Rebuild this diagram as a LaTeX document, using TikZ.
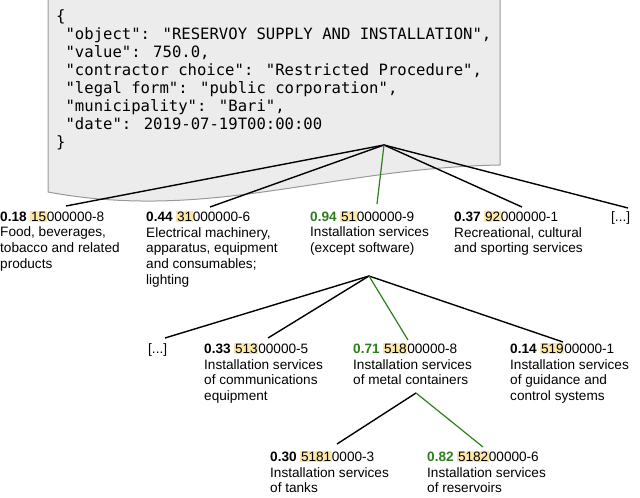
\documentclass[tikz,border=0pt]{standalone}
\usepackage{fontspec}
\setmainfont{Liberation Sans}
\newfontfamily\jmono{DejaVu Sans Mono}
\definecolor{hlc}{HTML}{FCE6A8}
\definecolor{grn}{HTML}{2E7D1E}
\definecolor{boxfill}{HTML}{ECECEC}
\newcommand{\hlx}[1]{{\setlength\fboxsep{0.6pt}\colorbox{hlc}{#1}}}
\begin{document}
\begin{tikzpicture}[x=1pt,y=-1pt,
  lbl/.style={anchor=north west,inner sep=0pt,align=left,font=\fontsize{13.6}{15.8}\selectfont},
  edge/.style={line width=1.4pt,black},
  gedge/.style={line width=1.2pt,grn}]
\useasboundingbox (0,0) rectangle (640,498);
\draw[fill=boxfill,draw=gray!80,line width=1pt] (48,-1) -- (500,-1) -- (500,165) .. controls (330,168) and (210,222) .. (48,192) -- cycle;
\node[anchor=north west,inner sep=0pt,align=left,font=\jmono\fontsize{15.6}{18.1}\selectfont] (json) at (56,9) {%
\{\\
\ "object": "RESERVOY SUPPLY AND INSTALLATION",\\
\ "value": 750.0,\\
\ "contractor choice": "Restricted Procedure",\\
\ "legal form": "public corporation",\\
\ "municipality": "Bari",\\
\ "date": 2019-07-19T00:00:00\\
\}};
\coordinate (r0) at (384,145);
\node[lbl] (a) at (0,211) {\textbf{0.18} \hlx{15}000000-8\\Food, beverages,\\tobacco and related\\products};
\node[lbl] (b) at (146,211) {\textbf{0.44} \hlx{31}000000-6\\Electrical machinery,\\apparatus, equipment\\and consumables;\\lighting};
\node[lbl] (c) at (310,211) {\textbf{\color{grn}0.94} \hlx{51}000000-9\\Installation services\\(except software)};
\node[lbl] (d) at (454,211) {\textbf{0.37} \hlx{92}000000-1\\Recreational, cultural\\and sporting services};
\node[lbl] (e) at (611,211) {[...]};
\coordinate (a0) at (66,206); \coordinate (b0) at (210,207);
\coordinate (c0) at (377,204); \coordinate (d0) at (522,207); \coordinate (e0) at (628,208);
\draw[edge] (r0) -- (a0); \draw[edge] (r0) -- (b0);
\draw[edge] (r0) -- (d0); \draw[edge] (r0) -- (e0);
\draw[gedge] (r0) -- (c0);
\coordinate (r1) at (369,276);
\node[lbl] (f) at (148,343) {[...]};
\node[lbl] (g) at (204,343) {\textbf{0.33} \hlx{513}00000-5\\Installation services\\of communications\\equipment};
\node[lbl] (h) at (353,343) {\textbf{\color{grn}0.71} \hlx{518}00000-8\\Installation services\\of metal containers};
\node[lbl] (i) at (510,343) {\textbf{0.14} \hlx{519}00000-1\\Installation services\\of guidance and\\control systems};
\coordinate (f0) at (165,338); \coordinate (g0) at (268,338);
\coordinate (h0) at (408,340); \coordinate (i0) at (563,342);
\draw[edge] (r1) -- (f0); \draw[edge] (r1) -- (g0); \draw[edge] (r1) -- (i0);
\draw[gedge] (r1) -- (h0);
\coordinate (r2) at (416,393);
\node[lbl] (j) at (270,451) {\textbf{0.30} \hlx{5181}0000-3\\Installation services\\of tanks};
\node[lbl] (k) at (427,451) {\textbf{\color{grn}0.82} \hlx{5182}00000-6\\Installation services\\of reservoirs};
\coordinate (j0) at (337,444); \coordinate (k0) at (483,447);
\draw[edge] (r2) -- (j0);
\draw[gedge] (r2) -- (k0);
\end{tikzpicture}
\end{document}
